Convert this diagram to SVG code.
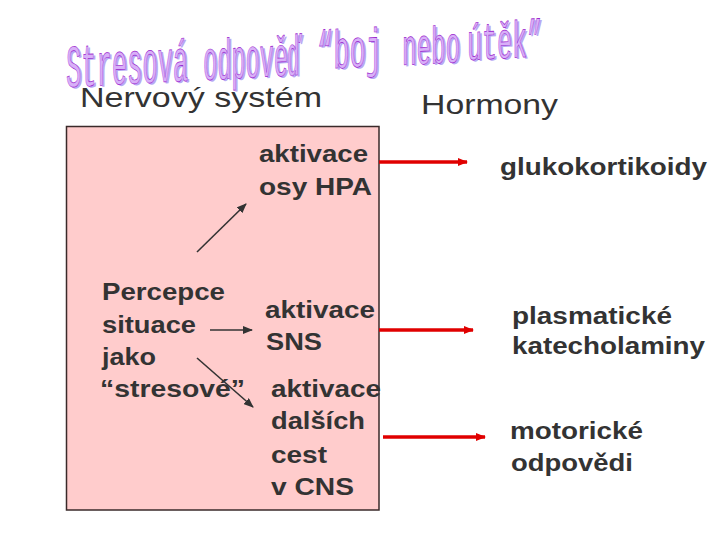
<svg xmlns="http://www.w3.org/2000/svg" width="720" height="540" viewBox="0 0 720 540">
<style>
.t{font-family:"Liberation Sans",Arial,sans-serif;fill:#333;}
.b{font-weight:bold;font-size:23px;}
.h{font-size:28px;}
.tw{font-family:"Liberation Mono","Courier New",monospace;}
.red{stroke:#e00000;stroke-width:3.5;fill:none;}
.blk{stroke:#333;stroke-width:1.6;fill:none;}
</style>
<defs>
<marker id="ar" markerUnits="userSpaceOnUse" markerWidth="10" markerHeight="8" refX="9" refY="4" orient="auto"><path d="M0,0 L10,4 L0,8 z" fill="#e00000"/></marker>
<marker id="ab" markerUnits="userSpaceOnUse" markerWidth="10" markerHeight="8" refX="9" refY="4" orient="auto"><path d="M0,0 L10,4 L0,8 z" fill="#333"/></marker>
<g id="titleWords" class="tw">
<text transform="translate(66,87) skewY(-3)" font-size="60" textLength="122" lengthAdjust="spacingAndGlyphs">Stresová</text>
<text transform="translate(203,80) skewY(-3)" font-size="57" textLength="99" lengthAdjust="spacingAndGlyphs">odpověď</text>
<text transform="translate(317,69) skewY(-3)" font-size="54" textLength="65" lengthAdjust="spacingAndGlyphs">“boj</text>
<text transform="translate(402,65) skewY(-3)" font-size="52" textLength="58" lengthAdjust="spacingAndGlyphs">nebo</text>
<text transform="translate(467,60) skewY(-3)" font-size="52" textLength="75" lengthAdjust="spacingAndGlyphs">útěk”</text>
</g>
</defs>
<rect width="720" height="540" fill="#fff"/>
<g id="title">
<use href="#titleWords" x="2" y="1.5" fill="#b8a8f4"/>
<use href="#titleWords" fill="#d8b0f8" stroke="#9a22cc" stroke-width="0.7"/>
</g>
<g id="headers">
<text class="t h" x="80" y="107" textLength="242" lengthAdjust="spacingAndGlyphs">Nervový systém</text>
<text class="t h" x="421" y="114" font-size="27" textLength="137" lengthAdjust="spacingAndGlyphs">Hormony</text>
</g>
<g id="box">
<rect x="66.5" y="126.5" width="312.5" height="383.5" fill="#ffcccc" stroke="#3a2a2a" stroke-width="1.5"/>
</g>
<g id="hpa">
<text class="t b" x="259" y="162" textLength="109" lengthAdjust="spacingAndGlyphs">aktivace</text>
<text class="t b" x="259" y="195" textLength="113" lengthAdjust="spacingAndGlyphs">osy HPA</text>
</g>
<g id="percepce">
<text class="t b" x="102" y="300" textLength="123" lengthAdjust="spacingAndGlyphs">Percepce</text>
<text class="t b" x="102" y="333" textLength="94" lengthAdjust="spacingAndGlyphs">situace</text>
<text class="t b" x="102" y="365" textLength="54" lengthAdjust="spacingAndGlyphs">jako</text>
<text class="t b" x="100" y="397" textLength="145" lengthAdjust="spacingAndGlyphs">“stresové”</text>
</g>
<g id="sns">
<text class="t b" x="265" y="318" textLength="110" lengthAdjust="spacingAndGlyphs">aktivace</text>
<text class="t b" x="266" y="350" textLength="56" lengthAdjust="spacingAndGlyphs">SNS</text>
</g>
<g id="dalsi">
<text class="t b" x="271" y="397" textLength="110" lengthAdjust="spacingAndGlyphs">aktivace</text>
<text class="t b" x="271" y="429" textLength="94" lengthAdjust="spacingAndGlyphs">dalších</text>
<text class="t b" x="271" y="463" textLength="56" lengthAdjust="spacingAndGlyphs">cest</text>
<text class="t b" x="271" y="495" textLength="83" lengthAdjust="spacingAndGlyphs">v CNS</text>
</g>
<g id="gluko">
<text class="t b" x="500" y="175" font-size="24" textLength="207" lengthAdjust="spacingAndGlyphs">glukokortikoidy</text>
</g>
<g id="kate">
<text class="t b" x="512" y="324" textLength="160" lengthAdjust="spacingAndGlyphs">plasmatické</text>
<text class="t b" x="512" y="354" textLength="193" lengthAdjust="spacingAndGlyphs">katecholaminy</text>
</g>
<g id="motor">
<text class="t b" x="510" y="439" textLength="133" lengthAdjust="spacingAndGlyphs">motorické</text>
<text class="t b" x="511" y="471" textLength="122" lengthAdjust="spacingAndGlyphs">odpovědi</text>
</g>
<g id="connectors">
<line class="blk" x1="197" y1="252" x2="246" y2="204" marker-end="url(#ab)"/>
<line class="blk" x1="210" y1="330" x2="252" y2="330" marker-end="url(#ab)"/>
<line class="blk" x1="197" y1="358" x2="253" y2="407" marker-end="url(#ab)"/>
<line class="red" x1="379" y1="162" x2="467" y2="162" marker-end="url(#ar)"/>
<line class="red" x1="379" y1="330" x2="473" y2="330" marker-end="url(#ar)"/>
<line class="red" x1="383" y1="437" x2="485" y2="437" marker-end="url(#ar)"/>
</g>
</svg>
